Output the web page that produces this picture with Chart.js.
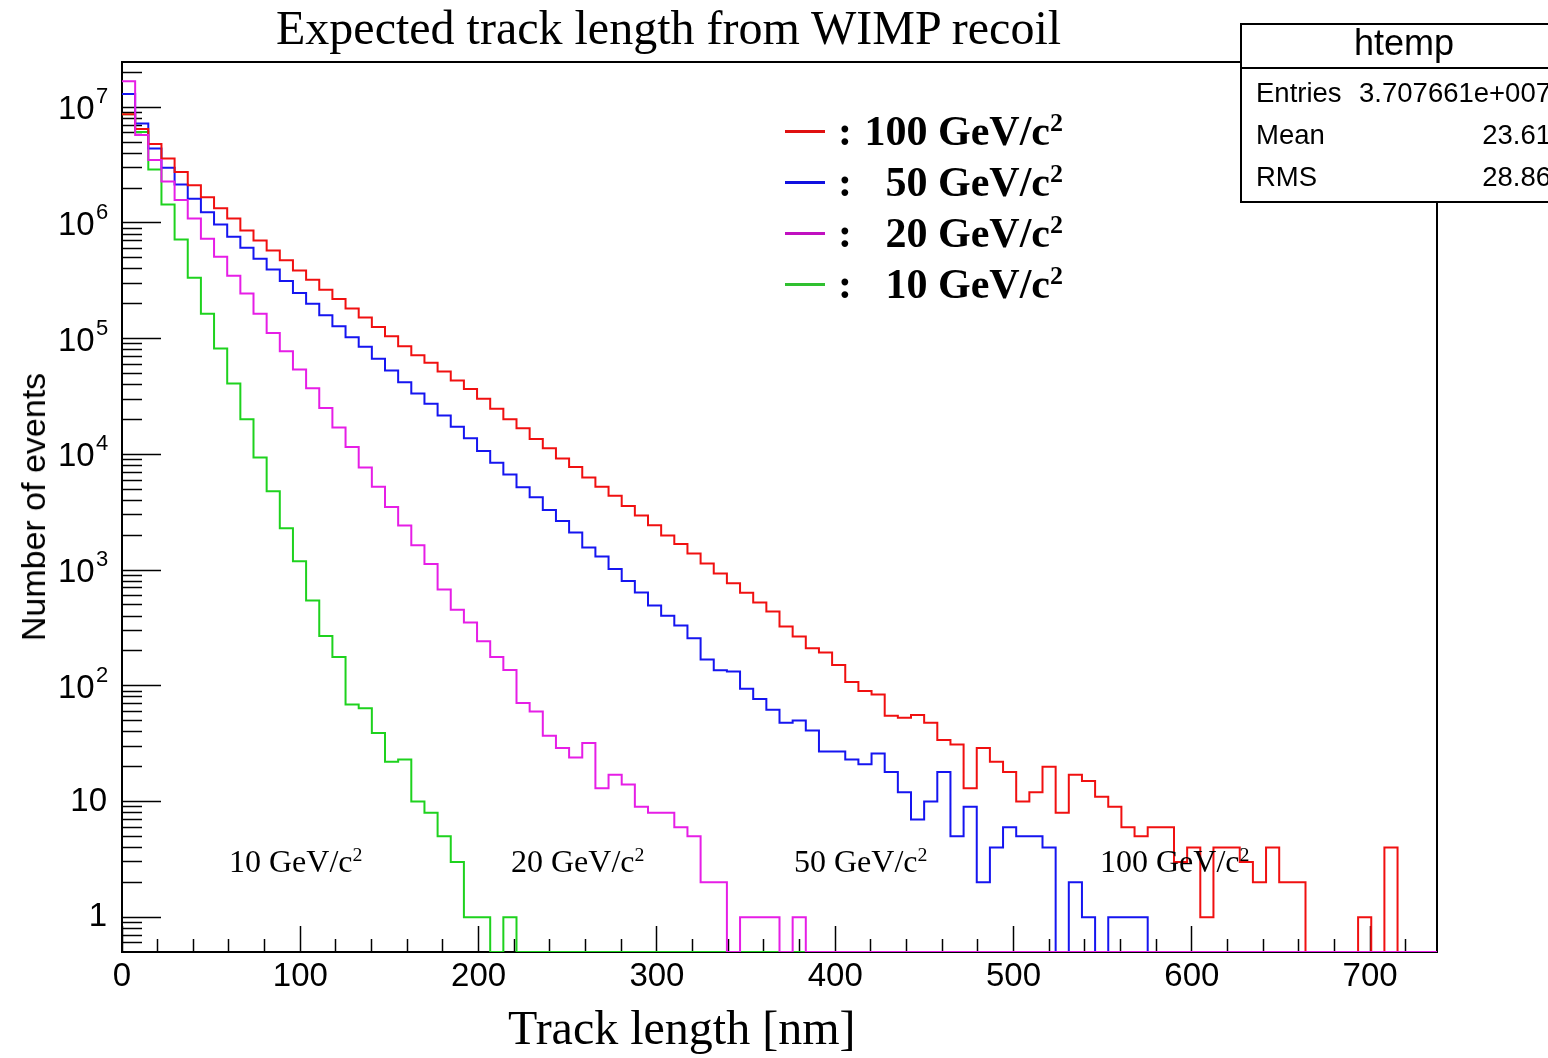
<!DOCTYPE html>
<html><head><meta charset="utf-8">
<script src="https://cdn.jsdelivr.net/npm/chart.js@4.4.0/dist/chart.umd.min.js"></script>
<style>
html,body{margin:0;padding:0;background:#fff;width:1548px;height:1058px;overflow:hidden;position:relative;}
#wrap{position:absolute;left:0;top:0;width:1548px;height:1058px;}
.t{position:absolute;white-space:nowrap;line-height:1;color:#000;}
.serif{font-family:'Liberation Serif','Times New Roman',serif;}
.sans{font-family:'Liberation Sans',Arial,sans-serif;}
.sup{font-size:0.62em;position:relative;top:-0.55em;}
#stats{position:absolute;left:1240px;top:23px;width:330px;height:176px;border:2px solid #000;background:#fff;}
#stats .sep{position:absolute;left:0;right:0;top:42px;height:0;border-top:2px solid #000;}
</style></head><body>
<div id="wrap"><canvas id="c"></canvas></div>

<div class="t serif" style="left:276px;top:4px;font-size:48px;">Expected track length from WIMP recoil</div>
<div class="t serif" style="left:508px;top:1004px;font-size:48px;">Track length [nm]</div>
<div class="t sans" style="left:33px;top:507px;font-size:34px;transform:translate(-50%,-50%) rotate(-90deg);">Number of events</div>

<div id="stats"><div class="sep"></div></div>
<div class="t sans" style="left:1404px;top:25px;font-size:36px;transform:translateX(-50%);">htemp</div>
<div class="t sans" style="left:1256px;top:79px;font-size:27.5px;">Entries</div>
<div class="t sans" style="right:-3px;top:79px;font-size:27.5px;">3.707661e+007</div>
<div class="t sans" style="left:1256px;top:121px;font-size:27.5px;">Mean</div>
<div class="t sans" style="right:-3px;top:121px;font-size:27.5px;">23.61</div>
<div class="t sans" style="left:1256px;top:163px;font-size:27.5px;">RMS</div>
<div class="t sans" style="right:-3px;top:163px;font-size:27.5px;">28.86</div>

<div id="legend"></div>
<div id="notes"></div>

<script>
// ---------------- data ----------------
const binWidth = 7.375;          // nm per bin (100 bins, 0 - 737.5 nm)
const nBins = 100;
const massLabels = ['100', '50', '20', '10'];   // GeV/c^2
const xTickValues = [0, 100, 200, 300, 400, 500, 600, 700];
const xTickLabels = ['0', '100', '200', '300', '400', '500', '600', '700'];
const yTickValues = [1, 10, 100, 1e3, 1e4, 1e5, 1e6, 1e7];
const yTickBase = ['1', '10', '10', '10', '10', '10', '10', '10'];
const yTickExp = ['', '', '2', '3', '4', '5', '6', '7'];

const counts100 = [
  8700000, 6500000, 4800000, 3600000, 2750000, 2120000, 1670000, 1340000, 1090000, 860000,
  706000, 579000, 475000, 389000, 323000, 265000, 220000, 182000, 152000, 126000,
  105000, 86000, 72000, 62000, 52000, 43500, 36800, 30300, 24800, 20100,
  16800, 13600, 11300, 9200, 7780, 6310, 5240, 4380, 3580, 2960,
  2440, 1990, 1680, 1390, 1140, 934, 769, 638, 523, 438,
  326, 267, 211, 194, 151, 108, 90, 84, 55, 53,
  56, 48, 34, 31, 13, 29, 22, 18, 10, 12,
  20, 8, 17, 15, 11, 9, 6, 5, 6, 6,
  3, 4, 1, 4, 4, 3, 2, 4, 2, 2,
  0, 0, 0, 0, 1, 0, 4, 0, 0, 0
];
const counts50 = [
  13000000, 7250000, 4400000, 3000000, 2150000, 1620000, 1240000, 970000, 760000, 610000,
  490000, 395000, 315000, 248000, 200000, 159000, 128000, 103000, 85000, 67000,
  53000, 42000, 33500, 27400, 21700, 17300, 13800, 10700, 8450, 6680,
  5200, 4250, 3300, 2650, 2110, 1570, 1310, 1020, 803, 640,
  493, 403, 332, 258, 169, 136, 133, 94, 77, 62,
  48, 50, 41, 27, 27, 23, 21, 26, 18, 12,
  7, 10, 18, 5, 9, 2, 4, 6, 5, 5,
  4, 0, 2, 1, 0, 1, 1, 1, 0, 0,
  0, 0, 0, 0, 0, 0, 0, 0, 0, 0,
  0, 0, 0, 0, 0, 0, 0, 0, 0, 0
];
const counts20 = [
  16800000, 5750000, 3500000, 2280000, 1580000, 1090000, 730000, 510000, 350000, 245000,
  164000, 112000, 78000, 54000, 37200, 25200, 17100, 11600, 7700, 5260,
  3500, 2430, 1640, 1130, 678, 454, 352, 243, 177, 137,
  71, 60, 37, 29, 24, 32, 13, 17, 14, 9,
  8, 8, 6, 5, 2, 2, 0, 1, 1, 1,
  0, 1, 0, 0, 0, 0, 0, 0, 0, 0,
  0, 0, 0, 0, 0, 0, 0, 0, 0, 0,
  0, 0, 0, 0, 0, 0, 0, 0, 0, 0,
  0, 0, 0, 0, 0, 0, 0, 0, 0, 0,
  0, 0, 0, 0, 0, 0, 0, 0, 0, 0
];
const counts10 = [
  8700000, 6100000, 2900000, 1440000, 720000, 336000, 164000, 82000, 41000, 20100,
  9400, 4800, 2300, 1190, 546, 269, 177, 69, 64, 39,
  22, 23, 10, 8, 5, 3, 1, 1, 0, 1,
  0, 0, 0, 0, 0, 0, 0, 0, 0, 0,
  0, 0, 0, 0, 0, 0, 0, 0, 0, 0,
  0, 0, 0, 0, 0, 0, 0, 0, 0, 0,
  0, 0, 0, 0, 0, 0, 0, 0, 0, 0,
  0, 0, 0, 0, 0, 0, 0, 0, 0, 0,
  0, 0, 0, 0, 0, 0, 0, 0, 0, 0,
  0, 0, 0, 0, 0, 0, 0, 0, 0, 0
];

// ---------------- styling ----------------
const yMin = 0.5, yMax = 2.46e7, xMax = nBins * binWidth;
const lineColors = ['#f01010', '#1515f0', '#e61ee6', '#1ed21e'];
const legendColors = ['#e01010', '#1010e0', '#c010c0', '#30c030'];
const drawOrder = [1, 2, 0, 3];   // magenta on top, green beneath
const sansFont = "'Liberation Sans', Arial, sans-serif";

function histPoints(vals) {
  const pts = vals.map((v, i) => ({ x: i * binWidth, y: v > 0 ? v : yMin }));
  pts.push({ x: vals.length * binWidth, y: pts[pts.length - 1].y });
  return pts;
}
const allCounts = [counts100, counts50, counts20, counts10];
const datasets = allCounts.map((c, k) => ({
  label: massLabels[k] + ' GeV/c\u00B2',
  data: histPoints(c),
  borderColor: lineColors[k],
  borderWidth: 2,
  pointRadius: 0,
  fill: false,
  stepped: true,
  tension: 0,
  order: drawOrder[k]
}));

const yMinor = [];
for (let e = -1; e <= 7; e++) {
  for (let m = 2; m <= 9; m++) {
    const v = m * Math.pow(10, e);
    if (v > yMin && v < yMax) yMinor.push(v);
  }
}
const xMinor = [];
for (let v = 20; v < xMax; v += 20) if (v % 100 !== 0) xMinor.push(v);

const framePlugin = {
  id: 'frame',
  beforeDatasetsDraw(chart) {
    const { ctx, chartArea: a } = chart;
    ctx.save();
    ctx.strokeStyle = '#000';
    ctx.lineWidth = 2;
    ctx.strokeRect(a.left, a.top, a.right - a.left, a.bottom - a.top);
    ctx.restore();
  }
};

function noPad(s) { s.paddingTop = 0; s.paddingBottom = 0; s.paddingLeft = 0; s.paddingRight = 0; }
function labelAt(values, labels) {
  return v => { const i = values.indexOf(v); return i >= 0 ? labels[i] : ''; };
}
const tickGrid = len => ({ drawOnChartArea: false, drawTicks: true, tickLength: len, tickWidth: 1.5, color: '#000', tickColor: '#000' });
const noTickGrid = { display: false, drawOnChartArea: false, drawTicks: false };

// labels for the y axis: plain ("1", "10") / base of power ("10") / exponent
const plainLabels = yTickBase.map((b, i) => yTickExp[i] === '' ? b : '');
const powerBase = yTickBase.map((b, i) => yTickExp[i] === '' ? '' : b);

new Chart(document.getElementById('c'), {
  type: 'line',
  data: { datasets },
  plugins: [framePlugin],
  options: {
    responsive: true,
    maintainAspectRatio: false,
    animation: false,
    events: [],
    layout: { padding: { left: 0, top: 62, right: 111, bottom: 0 } },
    plugins: { legend: { display: false }, tooltip: { enabled: false }, title: { display: false } },
    scales: {
      xm: {
        type: 'linear', position: 'bottom', weight: 0, min: 0, max: xMax,
        afterBuildTicks: s => { s.ticks = xMinor.map(v => ({ value: v })); },
        afterFit: s => { s.height = 0; noPad(s); },
        ticks: { display: false },
        grid: tickGrid(-13),
        border: { display: false }
      },
      ym: {
        type: 'logarithmic', position: 'left', weight: 0, min: yMin, max: yMax,
        afterBuildTicks: s => { s.ticks = yMinor.map(v => ({ value: v })); },
        afterFit: s => { s.width = 0; noPad(s); },
        ticks: { display: false },
        grid: tickGrid(-20),
        border: { display: false }
      },
      yb: {
        type: 'logarithmic', position: 'left', weight: 0, min: yMin, max: yMax,
        afterBuildTicks: s => { s.ticks = yTickValues.map(v => ({ value: v })); },
        afterFit: s => { s.width = 0; noPad(s); },
        ticks: {
          autoSkip: false, mirror: true, crossAlign: 'far', padding: -64, color: '#000', labelOffset: 3,
          font: { family: sansFont, size: 33 },
          callback: labelAt(yTickValues, powerBase)
        },
        grid: noTickGrid,
        border: { display: false }
      },
      ye: {
        type: 'logarithmic', position: 'left', weight: 0, min: yMin, max: yMax,
        afterBuildTicks: s => { s.ticks = yTickValues.map(v => ({ value: v })); },
        afterFit: s => { s.width = 0; noPad(s); },
        ticks: {
          autoSkip: false, mirror: true, crossAlign: 'near', padding: -26, color: '#000', labelOffset: -10,
          font: { family: sansFont, size: 22 },
          callback: labelAt(yTickValues, yTickExp)
        },
        grid: noTickGrid,
        border: { display: false }
      },
      x: {
        type: 'linear', position: 'bottom', weight: 1, min: 0, max: xMax,
        afterBuildTicks: s => { s.ticks = xTickValues.map(v => ({ value: v })); },
        afterFit: s => { s.height = 106; noPad(s); },
        ticks: {
          autoSkip: false, maxRotation: 0, padding: 31, color: '#000',
          font: { family: sansFont, size: 33 },
          callback: labelAt(xTickValues, xTickLabels)
        },
        grid: tickGrid(-26),
        border: { display: false }
      },
      y: {
        type: 'logarithmic', position: 'left', weight: 1, min: yMin, max: yMax,
        afterBuildTicks: s => { s.ticks = yTickValues.map(v => ({ value: v })); },
        afterFit: s => { s.width = 122; noPad(s); },
        ticks: {
          autoSkip: false, padding: 54, color: '#000',
          font: { family: sansFont, size: 33 },
          callback: labelAt(yTickValues, plainLabels)
        },
        grid: tickGrid(-39),
        border: { display: false }
      }
    }
  }
});

// ---------------- legend & labels (HTML text) ----------------
const legendRowsY = [131, 182, 233, 284];
let lg = '';
massLabels.forEach((m, k) => {
  const cy = legendRowsY[k];
  lg += '<div style="position:absolute;left:785px;top:' + (cy - 1.5) + 'px;width:40px;height:3px;background:' + legendColors[k] + ';"></div>';
  lg += '<div class="t serif" style="left:838px;top:' + (cy + 14 - 35) + 'px;font-size:42px;font-weight:bold;">:</div>';
  lg += '<div class="t serif" style="right:485px;top:' + (cy + 14 - 35) + 'px;font-size:42px;font-weight:bold;">' + m + ' GeV/c<span class="sup">2</span></div>';
});
document.getElementById('legend').innerHTML = lg;

const noteMasses = ['10', '20', '50', '100'];
const noteLeft = [229, 511, 794, 1100];
let nt = '';
noteMasses.forEach((m, k) => {
  nt += '<div class="t serif" style="left:' + noteLeft[k] + 'px;top:845px;font-size:32px;">' + m + ' GeV/c<span class="sup">2</span></div>';
});
document.getElementById('notes').innerHTML = nt;
</script>
</body></html>
